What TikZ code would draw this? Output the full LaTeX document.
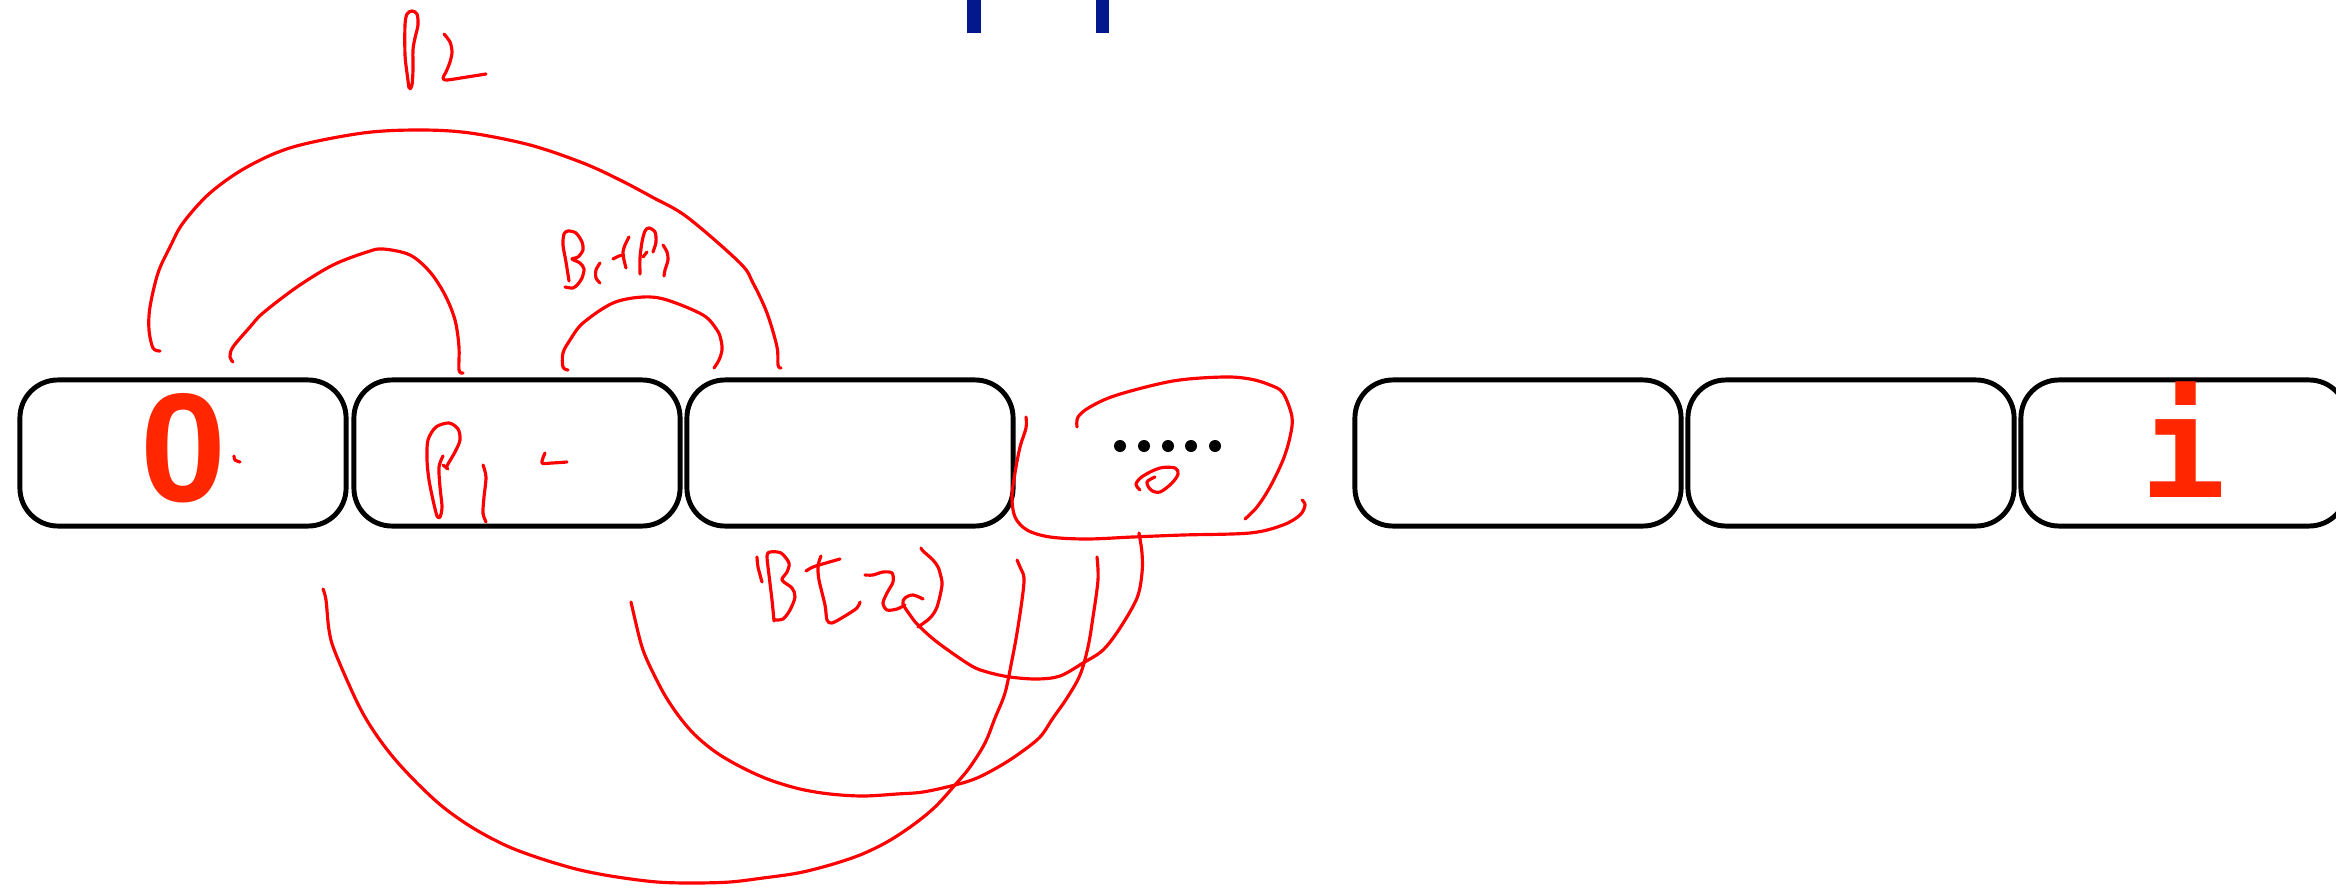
\documentclass[tikz,border=0pt]{standalone}
\usepackage{fontspec}
\newfontfamily\zerofont{Liberation Sans}
\newfontfamily\ifont{DejaVu Sans Mono}
\definecolor{handred}{RGB}{255,0,0}
\definecolor{glyphred}{RGB}{255,38,0}
\definecolor{barblue}{RGB}{2,24,140}
\tikzset{
  cell/.style={draw=black, line width=1.4pt, rounded corners=0.38cm, minimum width=3.26cm, minimum height=1.46cm, inner sep=0pt},
  hand/.style={draw=handred, line width=0.9pt, line cap=round, line join=round},
  bigglyph/.style={text=glyphred, inner sep=0pt, anchor=base},
}
\begin{document}
\begin{tikzpicture}[x=0.01cm, y=-0.01cm]
\useasboundingbox (0,0) rectangle (2336,888);
\clip (0,0) rectangle (2336,888);
% blue marks
\fill[barblue] (967,0) rectangle (981,33);
\fill[barblue] (1096,0) rectangle (1109,33);
% cells
\node[cell] (b0) at (183,453) {};
\node[cell] (b1) at (517,453) {};
\node[cell] (b2) at (850,453) {};
\node[cell] (b4) at (1518,453) {};
\node[cell] (b5) at (1851,453) {};
\node[cell] (b6) at (2184,453) {};
% texts
\node[bigglyph] (t0) at (184,501) {\zerofont\bfseries\fontsize{44pt}{50pt}\selectfont 0};
\node[bigglyph] (ti) at (2183,497) {\ifont\bfseries\fontsize{40.5pt}{46pt}\selectfont i};
% dots
\foreach \dx in {1120,1144,1168,1191,1215} \fill (\dx,446) circle[radius=0.06cm];
% ---- hand strokes ----
% big top arc
\draw[hand] plot[smooth, tension=0.55] coordinates {(160,351) (153,348) (149,330) (150,307) (158,273) (170,247) (183,223) (210,193) (247,167) (293,147) (363,133) (420,130) (470,133) (530,145) (583,163) (620,180) (652,197) (687,217) (740,263) (753,283) (767,313) (777,347) (778,365) (781,368)};
% small left arc
\draw[hand] plot[smooth, tension=0.55] coordinates {(233,362) (230,357) (233,347) (250,327) (263,313) (297,287) (333,265) (367,252) (383,249) (410,255) (430,272) (445,295) (455,320) (459,347) (459,370) (463,373)};
% B1+B1 arc
\draw[hand] plot[smooth, tension=0.55] coordinates {(714,368) (719,360) (722,350) (721,340) (717,330) (703,315) (667,300) (643,297) (613,303) (583,323) (570,340) (563,353) (563,367) (568,370)};
% loop around dots: lower
\draw[hand] plot[smooth, tension=0.55] coordinates {(1026,417) (1026,428) (1020,447) (1015,473) (1012,497) (1015,517) (1027,530) (1050,537) (1087,539) (1133,537) (1183,535) (1250,533) (1283,525) (1300,515) (1305,505) (1302,500)};
% loop around dots: upper
\draw[hand] plot[smooth, tension=0.55] coordinates {(1077,427) (1078,417) (1090,407) (1117,395) (1173,381) (1223,377) (1250,379) (1270,385) (1283,393) (1292,417) (1290,437) (1283,460) (1270,487) (1257,507) (1245,519)};
% scribble under dots
\draw[hand] plot[smooth, tension=0.55] coordinates {(1140,490) (1136,484) (1143,476) (1160,468) (1175,468) (1178,474) (1172,483) (1160,492) (1151,490) (1147,482) (1155,477)};
% small lower arc
\draw[hand] plot[smooth, tension=0.55] coordinates {(923,599) (913,595) (905,598) (903,604) (910,615) (918,625) (937,642) (970,665) (987,672) (1010,677) (1037,679) (1060,676) (1083,663) (1103,650) (1120,628) (1137,598) (1142,573) (1142,553) (1139,533)};
% middle lower arc
\draw[hand] plot[smooth, tension=0.55] coordinates {(631,602) (640,640) (647,660) (663,692) (678,715) (695,735) (717,753) (743,768) (770,780) (800,789) (830,794) (863,796) (897,794) (923,792) (955,785) (977,778) (1000,766) (1020,753) (1040,737) (1053,718) (1067,698) (1080,675) (1088,647) (1093,617) (1098,580) (1097,557)};
% largest lower arc
\draw[hand] plot[smooth, tension=0.55] coordinates {(323,589) (326,600) (329,630) (335,652) (357,702) (373,730) (393,757) (417,783) (443,807) (473,828) (507,846) (542,859) (580,870) (617,877) (657,882) (693,883) (730,882) (763,878) (798,873) (830,865) (860,855) (887,842) (913,825) (935,807) (955,785) (970,767) (985,743) (995,718) (1005,693) (1012,660) (1017,633) (1022,600) (1024,578) (1020,567) (1017,560)};
% ---- handwriting ----
% P2 (top)
\draw[hand] plot[smooth, tension=0.5] coordinates {(409,88) (407,73) (405,55) (405,25) (407,14) (412,11) (417,14) (418,25) (415,38) (413,50) (413,70) (412,85) (410,89)};
\draw[hand] plot[smooth, tension=0.5] coordinates {(444,34) (450,42) (452,52) (450,62) (446,72) (443,78) (447,80) (467,77) (486,74)};
% B1+B1
\draw[hand] plot[smooth, tension=0.5] coordinates {(569,281) (566,262) (563,245) (564,234) (568,231) (576,233) (582,242) (583,250) (578,257) (572,259) (580,263) (584,269) (582,278) (578,284) (573,288) (565,287)};
\draw[hand] plot[smooth, tension=0.5] coordinates {(600,263) (596,270) (596,278) (600,283)};
\draw[hand] plot[smooth, tension=0.5] coordinates {(613,259) (619,256) (623,255)};
\draw[hand] plot[smooth, tension=0.5] coordinates {(629,237) (625,245) (623,252) (624,260) (626,268)};
\draw[hand] plot[smooth, tension=0.5] coordinates {(640,274) (640,258) (642,242) (645,231) (649,228) (655,232) (656,242) (653,252)};
\draw[hand] plot[smooth, tension=0.5] coordinates {(647,252) (643,257)};
\draw[hand] plot[smooth, tension=0.5] coordinates {(663,245) (667,252) (668,260) (665,270) (664,276)};
% P1 - in box 2
\draw[hand] plot[smooth, tension=0.5] coordinates {(443,456) (439,467) (440,487) (442,507) (440,517) (437,516) (433,500) (429,480) (427,460) (428,440) (436,427) (449,423) (458,429) (460,440) (455,452) (448,464) (446,468)};
\draw[hand] plot[smooth, tension=0.5] coordinates {(443,465) (448,469)};
\draw[hand] plot[smooth, tension=0.5] coordinates {(483,465) (486,477) (484,497) (483,513) (486,522)};
\draw[hand] plot[smooth, tension=0.5] coordinates {(545,453) (542,463) (552,463) (567,462)};
% mark after 0
\draw[hand] plot[smooth, tension=0.5] coordinates {(234,456) (235,460) (240,462)};
% Bt2)
\draw[hand] plot[smooth, tension=0.5] coordinates {(762,582) (758,567) (757,557)};
\draw[hand] plot[smooth, tension=0.5] coordinates {(774,621) (772,600) (769,575) (767,556) (770,552) (781,553) (789,563) (787,572) (782,580) (792,588) (795,597) (790,610) (783,619) (774,620)};
\draw[hand] plot[smooth, tension=0.5] coordinates {(806,571) (813,567) (826,563) (840,559)};
\draw[hand] plot[smooth, tension=0.5] coordinates {(821,556) (818,566) (819,580) (825,605) (827,620) (832,623) (845,616) (857,608) (860,602)};
\draw[hand] plot[smooth, tension=0.5] coordinates {(865,575) (873,575) (883,572) (892,573) (893,582) (887,593) (883,603) (887,610) (897,609) (905,605)};
\draw[hand] plot[smooth, tension=0.5] coordinates {(921,548) (923,551) (933,560) (938,567) (940,573) (942,585) (937,607) (930,618) (918,627)};
\end{tikzpicture}
\end{document}
